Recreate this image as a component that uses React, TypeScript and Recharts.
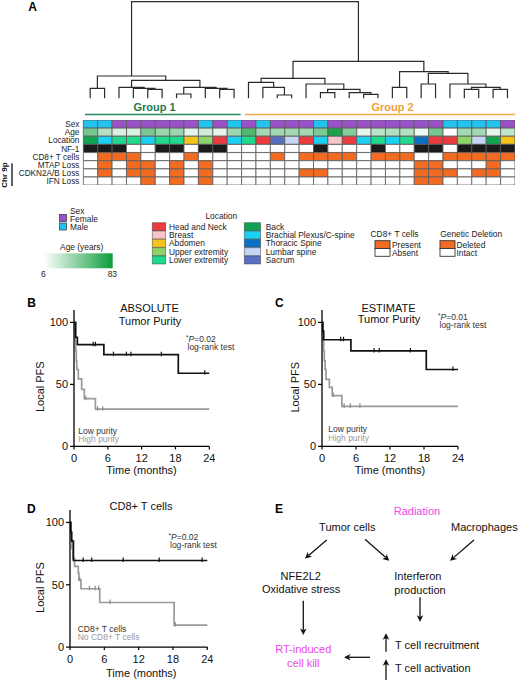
import React from 'react';
import { LineChart, Line, XAxis, YAxis, BarChart, Bar, Cell, ComposedChart, Scatter } from 'recharts';

const FONT = '"Liberation Sans", Arial, Helvetica, sans-serif';

// ---------------- Panel A data ----------------
const rowLabels = ['Sex', 'Age', 'Location', 'NF-1', 'CD8+ T cells', 'MTAP Loss', 'CDKN2A/B Loss', 'IFN Loss'];
const sexValues = ['M','M','F','F','F','F','F','F','M','F','M','F','M','F','F','F','M','F','F','F','F','F','F','F','F','M','M','M','M','F'];
const ageValues = [50,30,18,18,48,38,38,14,22,14,38,62,36,36,36,36,48,78,45,14,28,30,30,12,50,6,36,36,14,26];
const locationNames = ['Head and Neck','Breast','Abdomen','Upper extremity','Lower extremity','Back','Brachial Plexus/C-spine','Thoracic Spine','Lumbar spine','Sacrum'];
const locationColors = ['#ec3a3f','#f8c3c9','#f6c21c','#8fd46b','#20d98d','#10a452','#1bd0f0','#0b6fc4','#c5d5f5','#5970c0'];
const locationValues = [5,6,4,4,6,4,4,2,3,0,6,4,0,9,8,0,6,1,0,6,4,6,4,7,0,0,3,8,5,2];
const nf1Values = [1,1,1,0,0,1,1,0,1,1,0,0,0,0,0,0,1,0,0,0,1,0,0,1,1,0,1,1,1,1];
const cd8Values = [0,1,1,1,0,0,0,1,0,0,0,0,0,1,0,1,1,1,1,0,1,1,1,0,0,1,1,1,1,1];
const mtapValues = [0,1,0,1,1,0,1,0,1,0,0,0,0,0,0,0,0,0,0,0,0,0,0,1,1,0,0,0,1,0];
const cdknValues = [0,1,0,1,1,0,1,0,1,0,0,0,0,0,0,1,1,0,0,0,0,0,0,1,1,1,0,1,1,0];
const ifnValues = [0,0,0,0,1,0,1,0,1,0,0,0,0,0,0,0,0,0,0,0,0,0,0,1,1,0,0,0,0,0];

// dendrogram merges: [childA, childB, height]; leaves 0..29, new nodes numbered from 30
const dendroMerges: [number, number, number][] = [
  [4, 5, 9], [3, 30, 10], [2, 31, 11], [0, 1, 10], [6, 7, 4.3], [9, 10, 9], [8, 35, 10], [34, 36, 11],
  [32, 37, 18], [33, 38, 22.3], [13, 14, 3.3], [12, 40, 11], [11, 41, 16], [16, 17, 5.6], [19, 20, 4],
  [18, 44, 5.6], [43, 45, 9], [15, 46, 14.3], [42, 47, 20], [21, 22, 11], [23, 24, 14.3], [26, 27, 9],
  [28, 29, 9], [51, 52, 11], [25, 53, 14.3], [50, 54, 25], [49, 55, 26.6], [48, 56, 37], [39, 57, 96.6],
];

// ---------------- KM data ----------------
const absLowTimes = [0, 0.3, 0.6, 5.3, 18.5, 24];
const absLowSurv = [100, 88, 82, 74, 59, 59];
const absLowCensorTimes = [3.4, 3.8, 7.0, 9.3, 10.1, 15.5, 23.2];
const absLowCensorSurv = [82, 82, 74, 74, 74, 74, 59];
const absHighTimes = [0, 0.1, 0.2, 0.3, 0.4, 0.5, 0.77, 1.36, 1.83, 3.8, 24];
const absHighSurv = [100, 92, 85, 77, 69, 62, 54.5, 46, 38.5, 30, 30];
const absHighCensorTimes = [2.1, 4.2, 5.1];
const absHighCensorSurv = [38.5, 30, 30];

const estLowTimes = [0, 0.15, 0.3, 5.1, 18.4, 24];
const estLowSurv = [100, 93, 86, 77, 62, 62];
const estLowCensorTimes = [3.3, 3.8, 9.2, 10.1, 15.6, 23.1];
const estLowCensorSurv = [86, 86, 77, 77, 77, 62];
const estHighTimes = [0, 0.1, 0.2, 0.3, 0.4, 0.55, 0.7, 1.3, 1.8, 3.5, 24];
const estHighSurv = [100, 92, 85, 77, 69, 62, 54, 47.6, 41, 32.3, 32.3];
const estHighCensorTimes = [2.0, 3.9, 5.0, 6.7];
const estHighCensorSurv = [41, 32.3, 32.3, 32.3];

const cd8PosTimes = [0, 0.15, 0.3, 0.6, 24];
const cd8PosSurv = [100, 92, 85, 69.5, 69.5];
const cd8PosCensorTimes = [2.3, 3.8, 9.3, 15.6, 23.1];
const cd8PosCensorSurv = [69.5, 69.5, 69.5, 69.5, 69.5];
const cd8NegTimes = [0, 0.1, 0.2, 0.35, 0.5, 0.8, 1.45, 1.55, 1.92, 5.2, 18.2, 24];
const cd8NegSurv = [100, 93, 86, 79, 71, 64.7, 59.4, 54, 46.8, 35.8, 17.6, 17.6];
const cd8NegCensorTimes = [1.7, 3.4, 4.4, 5.0, 7.0, 18.4];
const cd8NegCensorSurv = [54, 46.8, 46.8, 46.8, 35.8, 17.6];

const timeTicks = [0, 6, 12, 18, 24];
const survTicks = [0, 50, 100];

// ---------------- helpers ----------------
const PURPLE = '#9b51c9';
const CYAN = '#22c4ef';
const ORANGE = '#f26b22';
const BLACK = '#1a1a1a';
const AGE_END = [13, 157, 60];

function ageColor(a: number) {
  const t = (a - 6) / 77;
  const c = AGE_END.map((e) => Math.round(255 + t * (e - 255)));
  return `rgb(${c[0]},${c[1]},${c[2]})`;
}

const cols = Array.from({ length: 30 }, (_, k) => k);
const heatRows = rowLabels.map((row) => {
  const o: any = { row };
  cols.forEach((k) => (o['c' + k] = 1));
  return o;
});

function cellColor(ri: number, k: number) {
  switch (ri) {
    case 0: return sexValues[k] === 'F' ? PURPLE : CYAN;
    case 1: return ageColor(ageValues[k]);
    case 2: return locationColors[locationValues[k]];
    case 3: return nf1Values[k] ? BLACK : '#ffffff';
    case 4: return cd8Values[k] ? ORANGE : '#ffffff';
    case 5: return mtapValues[k] ? ORANGE : '#ffffff';
    case 6: return cdknValues[k] ? ORANGE : '#ffffff';
    default: return ifnValues[k] ? ORANGE : '#ffffff';
  }
}

const nodeX: number[] = cols.map((k) => k + 0.5);
const nodeH: number[] = cols.map(() => 0);
const dendroPaths = dendroMerges.map(([a, b, h]) => {
  const pts = [
    { x: nodeX[a], h: nodeH[a] },
    { x: nodeX[a], h },
    { x: nodeX[b], h },
    { x: nodeX[b], h: nodeH[b] },
  ];
  nodeX.push((nodeX[a] + nodeX[b]) / 2);
  nodeH.push(h);
  return pts;
});

const toPts = (ts: number[], ss: number[]) => ts.map((t, i) => ({ t, s: ss[i] }));

const censorShape = (color: string) => (p: any) => (
  <line x1={p.cx} x2={p.cx} y1={p.cy - 3} y2={p.cy + 1.5} stroke={color} strokeWidth={1.2} />
);

const RowTick = (p: any) => (
  <text x={p.x} y={p.y} dy={3} textAnchor="end" fontFamily={FONT} fontSize={8.2} fill="#222">
    {p.payload.value}
  </text>
);

function KM(props: {
  left: number; top: number; width: number; height: number;
  low: any[]; lowC: any[]; high: any[]; highC: any[];
}) {
  const { left, top, width, height, low, lowC, high, highC } = props;
  return (
    <div style={{ position: 'absolute', left, top }}>
      <ComposedChart width={width} height={height} margin={{ top: 4, right: 6, bottom: 0, left: 0 }}>
        <XAxis type="number" dataKey="t" domain={[0, 24]} ticks={timeTicks} interval={0} height={24}
          tickSize={3} tickMargin={5} axisLine={{ stroke: '#000', strokeWidth: 1.3 }}
          tickLine={{ stroke: '#000', strokeWidth: 1.2 }} tick={{ fontSize: 11, fill: '#111', fontFamily: FONT }} />
        <YAxis type="number" dataKey="s" domain={[0, 110]} ticks={survTicks} interval={0} width={40}
          tickSize={4} tickMargin={2} axisLine={{ stroke: '#000', strokeWidth: 1.3 }}
          tickLine={{ stroke: '#000', strokeWidth: 1.2 }} tick={{ fontSize: 11, fill: '#111', fontFamily: FONT }} />
        <Line data={high} dataKey="s" type="stepAfter" stroke="#9a9a9a" strokeWidth={1.7} dot={false} isAnimationActive={false} />
        <Line data={low} dataKey="s" type="stepAfter" stroke="#111" strokeWidth={1.7} dot={false} isAnimationActive={false} />
        <Scatter data={highC} shape={censorShape('#8a8a8a')} isAnimationActive={false} />
        <Scatter data={lowC} shape={censorShape('#111')} isAnimationActive={false} />
      </ComposedChart>
    </div>
  );
}

function Arrow({ x1, y1, x2, y2 }: { x1: number; y1: number; x2: number; y2: number }) {
  const dx = x2 - x1, dy = y2 - y1;
  const L = Math.hypot(dx, dy);
  const ux = dx / L, uy = dy / L;
  const hl = 6.5, hw = 3.3;
  const bx = x2 - ux * hl, by = y2 - uy * hl;
  const nx = x2 - ux * (hl - 1.8), ny = y2 - uy * (hl - 1.8);
  const pts = `${x2},${y2} ${bx - uy * hw},${by + ux * hw} ${nx},${ny} ${bx + uy * hw},${by - ux * hw}`;
  return (
    <g>
      <line x1={x1} y1={y1} x2={nx} y2={ny} stroke="#111" strokeWidth={1.3} />
      <polygon points={pts} fill="#111" />
    </g>
  );
}

const txt = (x: number, y: number, s: string, o: any = {}) => (
  <text x={x} y={y} fontFamily={FONT} fontSize={o.size ?? 8.4} fill={o.fill ?? '#222'}
    textAnchor={o.anchor ?? 'start'} fontWeight={o.bold ? 'bold' : 'normal'} transform={o.transform}>
    {s}
  </text>
);

const pval = (x: number, y: number, p: string) => (
  <g>
    <text x={x} y={y} fontFamily={FONT} fontSize={8.5} fill="#333">
      <tspan fontSize={6.5} dy={-2}>*</tspan>
      <tspan dy={2} fontStyle="italic">P</tspan>
      <tspan>{'=' + p}</tspan>
    </text>
    <text x={x + 1.5} y={y + 8} fontFamily={FONT} fontSize={8.5} fill="#333">log-rank test</text>
  </g>
);

export default function App() {
  const locRowTop = [222.7, 231, 239.3, 247.7, 256];
  return (
    <div style={{ position: 'absolute', left: 0, top: 0, width: 520, height: 680, background: '#fff', overflow: 'hidden' }}>
      {/* dendrogram */}
      <div style={{ position: 'absolute', left: 83.3, top: 0 }}>
        <LineChart width={431.7} height={100} margin={{ top: 1.7, right: 0, bottom: 1.7, left: 0 }}>
          <XAxis type="number" dataKey="x" domain={[0, 30]} hide />
          <YAxis type="number" dataKey="h" domain={[0, 96.6]} hide />
          {dendroPaths.map((d, i) => (
            <Line key={i} data={d} dataKey="h" type="linear" stroke="#2b2b2b" strokeWidth={1.2} dot={false} isAnimationActive={false} />
          ))}
        </LineChart>
      </div>

      {/* heatmap */}
      <div style={{ position: 'absolute', left: 0, top: 120.3 }}>
        <BarChart width={515} height={65.2} data={heatRows} layout="vertical" margin={{ top: 0, right: 0, bottom: 0, left: 0 }}
          barCategoryGap={0} barGap={0}>
          <XAxis type="number" domain={[0, 30]} hide />
          <YAxis type="category" dataKey="row" width={83.3} tickSize={0} tickMargin={4} axisLine={false} tickLine={false}
            interval={0} tick={RowTick} />
          {cols.map((k) => (
            <Bar key={k} dataKey={'c' + k} stackId="h" stroke="#5a5a5a" strokeWidth={0.8} isAnimationActive={false}>
              {heatRows.map((r, ri) => (
                <Cell key={ri} fill={cellColor(ri, k)} />
              ))}
            </Bar>
          ))}
        </BarChart>
      </div>

      <KM left={34} top={306.3} width={181.3} height={164.4}
        low={toPts(absLowTimes, absLowSurv)} lowC={toPts(absLowCensorTimes, absLowCensorSurv)}
        high={toPts(absHighTimes, absHighSurv)} highC={toPts(absHighCensorTimes, absHighCensorSurv)} />
      <KM left={281.7} top={306.3} width={182} height={164.4}
        low={toPts(estLowTimes, estLowSurv)} lowC={toPts(estLowCensorTimes, estLowCensorSurv)}
        high={toPts(estHighTimes, estHighSurv)} highC={toPts(estHighCensorTimes, estHighCensorSurv)} />
      <KM left={30} top={506.2} width={183.3} height={165.1}
        low={toPts(cd8PosTimes, cd8PosSurv)} lowC={toPts(cd8PosCensorTimes, cd8PosCensorSurv)}
        high={toPts(cd8NegTimes, cd8NegSurv)} highC={toPts(cd8NegCensorTimes, cd8NegCensorSurv)} />

      <svg width={520} height={680} style={{ position: 'absolute', left: 0, top: 0, pointerEvents: 'none' }}>
        <defs>
          <linearGradient id="ageGrad" x1="0" x2="1" y1="0" y2="0">
            <stop offset="0" stopColor={ageColor(6)} />
            <stop offset="1" stopColor={ageColor(83)} />
          </linearGradient>
        </defs>
        {/* panel labels */}
        {txt(28.3, 11, 'A', { size: 12, bold: true, fill: '#000' })}
        {txt(27.3, 307.3, 'B', { size: 12, bold: true, fill: '#000' })}
        {txt(275, 307, 'C', { size: 12, bold: true, fill: '#000' })}
        {txt(27, 513, 'D', { size: 12, bold: true, fill: '#000' })}
        {txt(275, 513, 'E', { size: 12, bold: true, fill: '#000' })}

        {/* groups */}
        {txt(154.5, 111.3, 'Group 1', { size: 11, bold: true, fill: '#1d7a4f', anchor: 'middle' })}
        {txt(392.5, 111.3, 'Group 2', { size: 11, bold: true, fill: '#f0a236', anchor: 'middle' })}
        <line x1={85} x2={240.7} y1={114.5} y2={114.5} stroke="#2a8a5c" strokeWidth={1.3} />
        <line x1={245} x2={515.3} y1={114.5} y2={114.5} stroke="#f3ac45" strokeWidth={1.3} />

        {/* Chr 9p */}
        {txt(0, 0, 'Chr 9p', { size: 8, bold: true, fill: '#111', anchor: 'middle', transform: 'translate(7,175) rotate(-90)' })}
        <line x1={12} x2={12} y1={163.3} y2={186} stroke="#222" strokeWidth={1.4} />

        {/* sex legend */}
        {txt(70, 213.5, 'Sex')}
        <rect x={59.5} y={214.5} width={7} height={7} fill={PURPLE} stroke="#333" strokeWidth={0.7} />
        {txt(70, 221.5, 'Female')}
        <rect x={59.5} y={223} width={7} height={7} fill={CYAN} stroke="#333" strokeWidth={0.7} />
        {txt(70, 230, 'Male')}

        {/* age legend */}
        {txt(81.7, 250, 'Age (years)', { anchor: 'middle' })}
        <rect x={44} y={253.3} width={68.7} height={15} fill="url(#ageGrad)" />
        {txt(43.3, 276.7, '6', { anchor: 'middle' })}
        {txt(112.3, 276.7, '83', { anchor: 'middle' })}

        {/* location legend */}
        {txt(221.3, 218.5, 'Location', { anchor: 'middle' })}
        {locationNames.map((n, i) => {
          const col = i < 5 ? 0 : 1;
          const r = i % 5;
          const sx = col === 0 ? 152.3 : 244.3;
          const sw = col === 0 ? 13.4 : 16.3;
          const tx = col === 0 ? 169 : 265.7;
          return (
            <g key={n}>
              <rect x={sx} y={locRowTop[r]} width={sw} height={8} fill={locationColors[i]} stroke="#333" strokeOpacity={0.55} strokeWidth={0.8} />
              {txt(tx, locRowTop[r] + 6.9, n)}
            </g>
          );
        })}

        {/* CD8 legend */}
        {txt(394.5, 236.5, 'CD8+ T cells', { anchor: 'middle' })}
        <rect x={375} y={240.7} width={15} height={7.8} fill={ORANGE} stroke="#333" strokeWidth={0.9} />
        <rect x={375} y={248.5} width={15} height={7.8} fill="#fff" stroke="#333" strokeWidth={0.9} />
        {txt(392, 247.8, 'Present')}
        {txt(392, 255.7, 'Absent')}

        {/* genetic deletion legend */}
        {txt(471.2, 236.5, 'Genetic Deletion', { anchor: 'middle' })}
        <rect x={440} y={240.7} width={15} height={7.8} fill={ORANGE} stroke="#333" strokeWidth={0.9} />
        <rect x={440} y={248.5} width={15} height={7.8} fill="#fff" stroke="#333" strokeWidth={0.9} />
        {txt(456.5, 247.8, 'Deleted')}
        {txt(456.5, 255.7, 'Intact')}

        {/* panel B text */}
        {txt(149.5, 311.7, 'ABSOLUTE', { size: 11, anchor: 'middle', fill: '#111' })}
        {txt(150, 325, 'Tumor Purity', { size: 11, anchor: 'middle', fill: '#111' })}
        {pval(186, 341.5, '0.02')}
        {txt(78.3, 433.5, 'Low purity', { size: 8.5, fill: '#333' })}
        {txt(78.3, 441.5, 'High purity', { size: 8.5, fill: '#9a9a9a' })}
        {txt(141.5, 474.3, 'Time (months)', { size: 11, anchor: 'middle', fill: '#111' })}
        {txt(0, 0, 'Local PFS', { size: 11, anchor: 'middle', fill: '#111', transform: 'translate(43.5,386.7) rotate(-90)' })}

        {/* panel C text */}
        {txt(388.5, 311.5, 'ESTIMATE', { size: 11, anchor: 'middle', fill: '#111' })}
        {txt(389, 323.3, 'Tumor Purity', { size: 11, anchor: 'middle', fill: '#111' })}
        {pval(438, 319.5, '0.01')}
        {txt(328.3, 432.3, 'Low purity', { size: 8.5, fill: '#333' })}
        {txt(328.3, 440.5, 'High purity', { size: 8.5, fill: '#9a9a9a' })}
        {txt(390, 474.3, 'Time (months)', { size: 11, anchor: 'middle', fill: '#111' })}
        {txt(0, 0, 'Local PFS', { size: 11, anchor: 'middle', fill: '#111', transform: 'translate(298.5,387.2) rotate(-90)' })}

        {/* panel D text */}
        {txt(141, 509.7, 'CD8+ T cells', { size: 11, anchor: 'middle', fill: '#111' })}
        {pval(168.5, 540.3, '0.02')}
        {txt(77.7, 632.3, 'CD8+ T cells', { size: 8.5, fill: '#333' })}
        {txt(77.7, 640.3, 'No CD8+ T cells', { size: 8.5, fill: '#9a9a9a' })}
        {txt(141.3, 676.5, 'Time (months)', { size: 11, anchor: 'middle', fill: '#111' })}
        {txt(0, 0, 'Local PFS', { size: 11, anchor: 'middle', fill: '#111', transform: 'translate(43.5,587.5) rotate(-90)' })}

        {/* panel E */}
        {txt(417, 515, 'Radiation', { size: 11, anchor: 'middle', fill: '#e848e8' })}
        {txt(347.3, 531.3, 'Tumor cells', { size: 11, anchor: 'middle', fill: '#111' })}
        {txt(451, 531.3, 'Macrophages', { size: 11, fill: '#111' })}
        {txt(300.7, 579.5, 'NFE2L2', { size: 11, anchor: 'middle', fill: '#111' })}
        {txt(301.2, 592.5, 'Oxidative stress', { size: 11, anchor: 'middle', fill: '#111' })}
        {txt(394.3, 580, 'Interferon', { size: 11, fill: '#111' })}
        {txt(394.3, 593.5, 'production', { size: 11, fill: '#111' })}
        {txt(303.3, 653, 'RT-induced', { size: 11, anchor: 'middle', fill: '#e848e8' })}
        {txt(303.3, 666.5, 'cell kill', { size: 11, anchor: 'middle', fill: '#e848e8' })}
        {txt(395, 648.5, 'T cell recruitment', { size: 11, fill: '#111' })}
        {txt(395, 671.5, 'T cell activation', { size: 11, fill: '#111' })}
        <Arrow x1={326.7} y1={540} x2={305} y2={558.5} />
        <Arrow x1={365} y1={539.3} x2={389.3} y2={560.7} />
        <Arrow x1={474} y1={540} x2={450} y2={560.7} />
        <Arrow x1={303.3} y1={600.7} x2={303.3} y2={635} />
        <Arrow x1={420} y1={597.3} x2={420} y2={621.7} />
        <Arrow x1={370} y1={657.3} x2={344} y2={657.3} />
        <Arrow x1={386} y1={651.7} x2={386} y2={633.3} />
        <Arrow x1={386} y1={680} x2={386} y2={659.3} />
      </svg>
    </div>
  );
}
